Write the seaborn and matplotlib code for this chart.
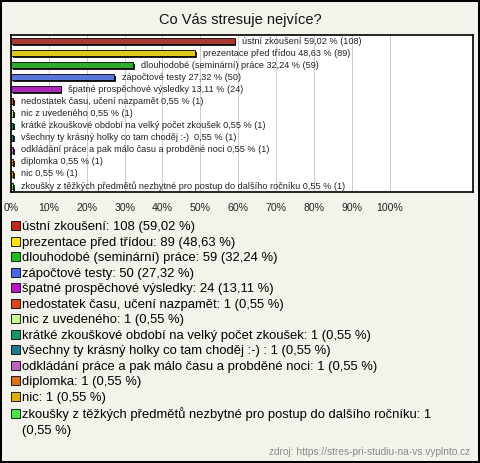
import textwrap

import matplotlib.pyplot as plt
import matplotlib.patheffects as pe
import pandas as pd
import seaborn as sns
from matplotlib.patches import Patch

TITLE = "Co Vás stresuje nejvíce?"
SOURCE = "zdroj: https://stres-pri-studiu-na-vs.vyplnto.cz"

categories = [
    "ústní zkoušení",
    "prezentace před třídou",
    "dlouhodobé (seminární) práce",
    "zápočtové testy",
    "špatné prospěchové výsledky",
    "nedostatek času, učení nazpamět",
    "nic z uvedeného",
    "krátké zkouškové období na velký počet zkoušek",
    "všechny ty krásný holky co tam choděj :-) ",
    "odkládání práce a pak málo času a probděné noci",
    "diplomka",
    "nic",
    "zkoušky z těžkých předmětů nezbytné pro postup do dalšího ročníku",
]
counts = [108, 89, 59, 50, 24, 1, 1, 1, 1, 1, 1, 1, 1]
percents = [59.02, 48.63, 32.24, 27.32, 13.11, 0.55, 0.55, 0.55, 0.55, 0.55, 0.55, 0.55, 0.55]
colors = [
    "#c0281a", "#ffe400", "#18c018", "#4468f0", "#c010d0", "#e04410", "#c8f890",
    "#109868", "#207890", "#c060c0", "#e07010", "#e0b000", "#44e844",
]
xticks = list(range(0, 101, 10))

BG = "#f4f3eb"


def cz(v):
    return f"{v:.2f}".replace(".", ",")


df = pd.DataFrame({"cat": categories, "pct": percents, "n": counts})

plt.rcParams["font.family"] = ["Liberation Sans", "DejaVu Sans"]

fig = plt.figure(figsize=(4.8, 4.63), dpi=100)
fig.patch.set_facecolor(BG)
fig.patch.set_edgecolor("black")
fig.patch.set_linewidth(1.5)

ax = fig.add_axes([11 / 480, 1 - 192 / 463, 462 / 480, 157 / 463])
sns.barplot(
    data=df, x="pct", y="cat", hue="cat", palette=colors, legend=False,
    orient="h", width=0.5, edgecolor="black", linewidth=0.6, ax=ax,
)
for bar in ax.patches:
    bar.set_path_effects([
        pe.SimplePatchShadow(offset=(1.3, -1.3), shadow_rgbFace="#222222", alpha=1.0),
        pe.Normal(),
    ])

for i, row in df.iterrows():
    ax.annotate(
        f"{row['cat']} {cz(row['pct'])} % ({row['n']})",
        xy=(row["pct"], i), xytext=(5.5, 0), textcoords="offset points",
        va="center", ha="left", fontsize=6.6, color="#222222",
    )

ax.set_facecolor("white")
ax.set_xlim(0, 122)
ax.set_xticks(xticks)
ax.set_xticklabels([f"{t}%" for t in xticks], fontsize=7.6, color="#222222")
ax.tick_params(axis="x", length=0, pad=8)
ax.set_yticks([])
ax.set_xlabel("")
ax.set_ylabel("")
ax.grid(axis="x", color="#cccccc", linewidth=0.7)
ax.set_axisbelow(True)
for s in ax.spines.values():
    s.set_color("black")
    s.set_linewidth(1.2)

fig.text(0.5, 1 - 20 / 463, TITLE, ha="center", va="center", fontsize=10.5, color="#111111")

# legend below the chart; wrapped continuation lines get an empty handle
handles = []
for c, cat, n, p in zip(colors, categories, counts, percents):
    lines = textwrap.wrap(f"{cat}: {n} ({cz(p)} %)", 69)
    handles.append(Patch(facecolor=c, edgecolor="black", linewidth=0.6, label=lines[0]))
    for extra in lines[1:]:
        handles.append(Patch(facecolor="none", edgecolor="none", label=extra))

fig.legend(
    handles=handles, loc="upper left", bbox_to_anchor=(0.022, 1 - 221 / 463),
    frameon=False, fontsize=9.4, handlelength=0.7, handleheight=0.7,
    handletextpad=0.2, labelspacing=0.26, borderaxespad=0, borderpad=0,
)

fig.text(470 / 480, 1 - 452 / 463, SOURCE, ha="right", va="center", fontsize=7.3, color="#888888")

fig.savefig("out.png", dpi=100, facecolor=BG, edgecolor="black")
